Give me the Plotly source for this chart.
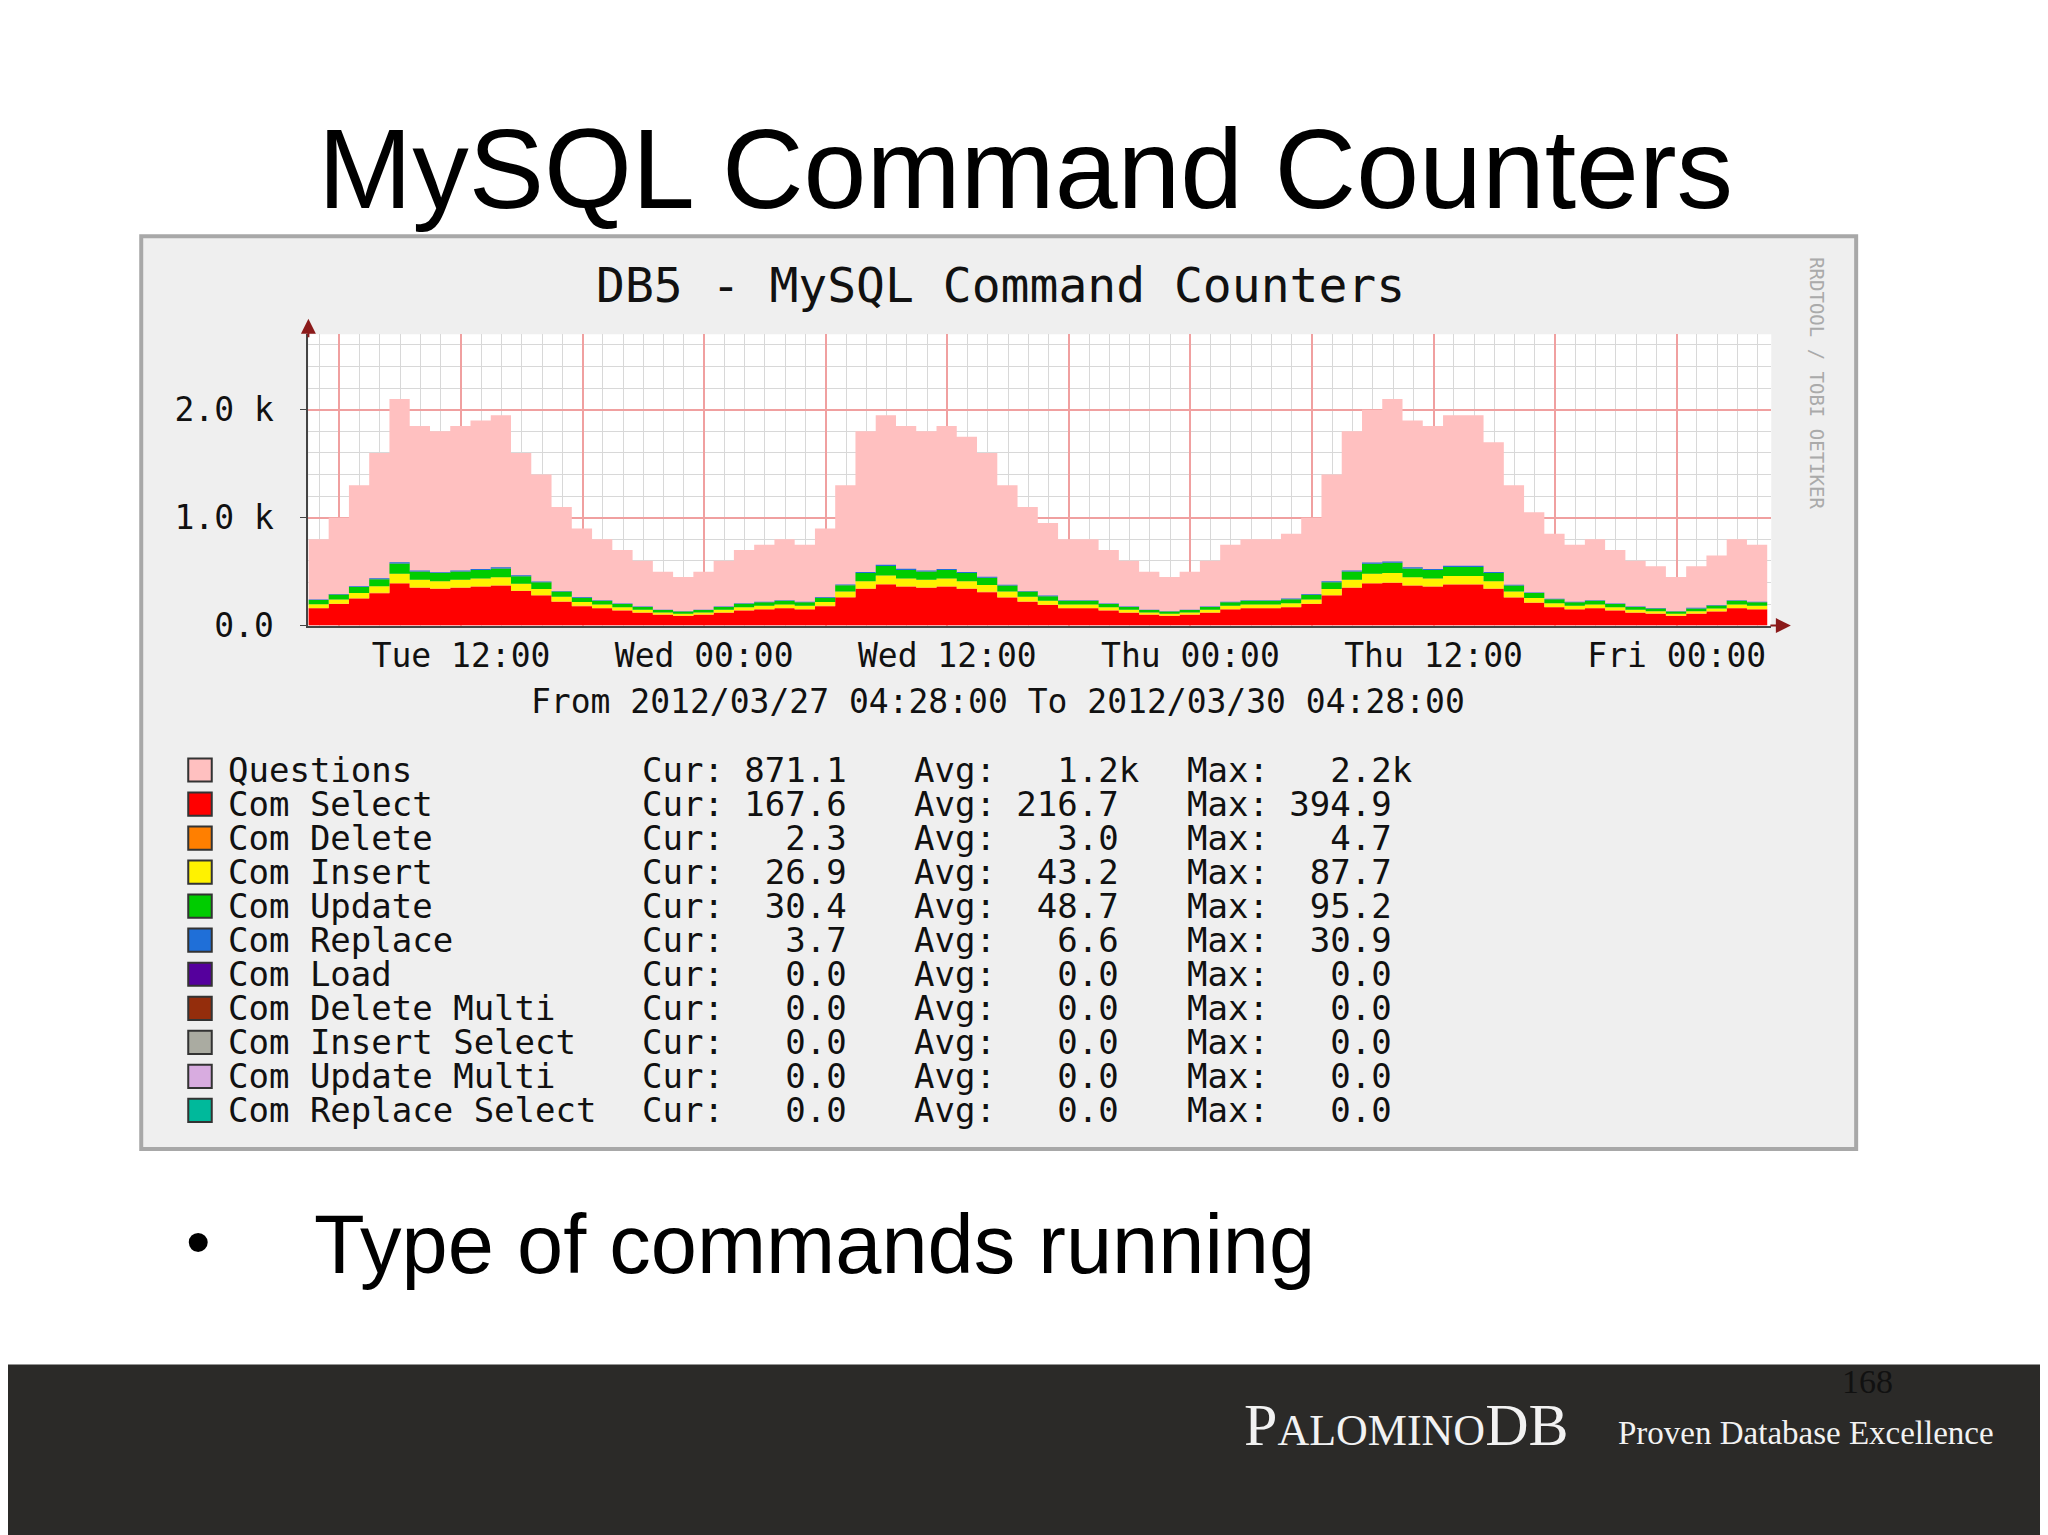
import plotly.graph_objects as go
import pandas as pd

W, H = 2048, 1535
def px(x): return (x - 5) / 1568
def py(y): return 1 - (y - 1) / 1175

times = pd.date_range("2012-03-27 04:28", periods=73, freq="h")
questions = [800,1000,1300,1600,2100,1850,1800,1850,1900,1950,1600,1400,1100,900,800,700,600,500,450,500,
             600,700,750,800,750,900,1300,1800,1950,1850,1800,1850,1750,1600,1300,1100,950,800,800,700,
             600,500,450,500,600,750,800,800,850,1000,1400,1800,2000,2100,1900,1850,1950,1950,1700,1300,
             1050,850,750,800,700,600,550,450,550,650,800,750,850]
com_select = [160,200,250,300,390,350,340,350,360,370,320,280,220,180,160,140,120,100,90,100,
              120,140,150,160,150,180,260,340,380,360,350,360,340,310,260,220,190,160,160,140,
              120,100,90,100,120,150,160,160,170,200,280,350,390,395,370,360,380,380,340,260,
              210,170,150,160,140,120,110,90,110,130,160,150,168]
com_delete = [3,3,3,4,5,4,4,4,4,4,4,3,3,3,3,2,2,2,2,2,
              2,3,3,3,3,3,4,4,5,4,4,4,4,4,3,3,3,3,3,2,
              2,2,2,2,2,3,3,3,3,3,4,4,5,5,4,4,4,4,4,3,
              3,3,3,3,2,2,2,2,2,2,3,3,2]
com_insert = [35,40,50,60,85,70,68,70,72,74,64,56,44,36,32,28,24,20,18,20,
              24,28,30,32,30,36,52,68,80,72,70,72,68,62,52,44,38,32,32,28,
              24,20,18,20,24,30,32,32,34,40,56,70,85,88,74,72,76,76,68,52,
              42,34,30,32,28,24,22,18,22,26,32,30,27]
com_update = [40,45,55,66,95,78,75,78,80,82,70,62,48,40,35,31,26,22,20,22,
              26,31,33,35,33,40,57,75,88,80,77,80,75,68,57,48,42,35,35,31,
              26,22,20,22,26,33,35,35,37,44,62,78,93,95,82,80,84,84,75,57,
              46,37,33,35,31,26,24,20,24,29,35,33,30]
com_replace = [5,6,7,8,12,9,8,9,9,10,8,7,6,5,5,4,4,4,3,4,
               4,5,5,5,5,6,8,9,12,10,9,9,9,8,7,6,5,5,5,4,
               4,4,3,4,4,5,5,5,6,6,8,9,11,12,10,9,10,10,9,7,
               6,5,5,5,4,4,4,3,8,4,5,5,4]

legend_names = ["Questions","Com Select","Com Delete","Com Insert","Com Update","Com Replace",
                "Com Load","Com Delete Multi","Com Insert Select","Com Update Multi","Com Replace Select"]
legend_colors = ["#FFC0C0","#FF0000","#FF7F00","#FFF200","#00CC00","#1F6FD8",
                 "#55009D","#942D0C","#AAABA1","#D8ACE0","#00B99B"]
cur_vals = ["871.1","167.6","2.3","26.9","30.4","3.7","0.0","0.0","0.0","0.0","0.0"]
avg_vals = ["1.2k","216.7","3.0","43.2","48.7","6.6","0.0","0.0","0.0","0.0","0.0"]
max_vals = ["2.2k","394.9","4.7","87.7","95.2","30.9","0.0","0.0","0.0","0.0","0.0"]

NB = "\u00a0"
def field(label, v):
    s = v if v.endswith("k") else v + " "
    return (label + ":" + s.rjust(7)).replace(" ", NB)

fig = go.Figure()
fig.add_trace(go.Scatter(x=times, y=questions, fill="tozeroy", mode="lines",
                         line=dict(width=0, shape="hv", color="#FFC0C0"), fillcolor="#FFC0C0"))
for vals, col in [(com_select,"#FF0000"),(com_delete,"#FF7F00"),(com_insert,"#FFF200"),
                  (com_update,"#00CC00"),(com_replace,"#1F6FD8")]:
    fig.add_trace(go.Scatter(x=times, y=vals, stackgroup="c", mode="lines",
                             line=dict(width=0, shape="hv", color=col), fillcolor=col))

mono = "DejaVu Sans Mono"
shapes = []
ann = []
shapes.append(dict(type="rect", xref="paper", yref="paper", x0=-0.01, x1=1.01, y0=-0.01, y1=py(1053),
                   fillcolor="#2b2a28", line=dict(width=0), layer="below"))
shapes.append(dict(type="rect", xref="paper", yref="paper", x0=px(107), x1=px(1420), y0=py(886), y1=py(178),
                   fillcolor="#efefef", line=dict(color="#a8a8a8", width=4), layer="below"))
shapes.append(dict(type="rect", xref="paper", yref="paper", x0=px(235), x1=px(1355), y0=py(480), y1=py(254),
                   fillcolor="#ffffff", line=dict(width=0), layer="below"))
for i, col in enumerate(legend_colors):
    y = 592 + i * 26.4
    shapes.append(dict(type="rect", xref="paper", yref="paper", x0=px(143), x1=px(161),
                       y0=py(y + 9), y1=py(y - 9), fillcolor=col, line=dict(color="#333333", width=2)))
    ann.append(dict(x=px(173), y=py(y), text=legend_names[i].replace(" ", NB)))
    ann.append(dict(x=px(490), y=py(y), text=field("Cur", cur_vals[i])))
    ann.append(dict(x=px(698), y=py(y), text=field("Avg", avg_vals[i])))
    ann.append(dict(x=px(907), y=py(y), text=field("Max", max_vals[i])))
for a in ann:
    a.update(xref="paper", yref="paper", showarrow=False, yanchor="middle", xanchor="left", borderpad=0,
             font=dict(family=mono, size=34, color="#111111"))

ann += [
    dict(x=px(784), y=py(126), text="MySQL Command Counters", xref="paper", yref="paper", showarrow=False,
         font=dict(family="Liberation Sans", size=113, color="#000"), yanchor="middle"),
    dict(x=px(765), y=py(216), text="DB5 - MySQL Command Counters", xref="paper", yref="paper", showarrow=False,
         font=dict(family=mono, size=48, color="#111"), yanchor="middle"),
    dict(x=px(763), y=py(539), text="From 2012/03/27 04:28:00 To 2012/03/30 04:28:00", xref="paper", yref="paper",
         showarrow=False, font=dict(family=mono, size=33, color="#111"), yanchor="middle"),
    dict(x=px(1400), y=py(292), text="RRDTOOL / TOBI OETIKER", xref="paper", yref="paper", showarrow=False,
         textangle=90, font=dict(family=mono, size=19, color="#aaaaaa"), yanchor="middle"),
    dict(x=px(140), y=py(958), text="•", xref="paper", yref="paper", showarrow=False,
         font=dict(family="Liberation Sans", size=70, color="#000"), xanchor="left", yanchor="middle"),
    dict(x=px(238), y=py(960), text="Type of commands running", xref="paper", yref="paper", showarrow=False,
         font=dict(family="Liberation Sans", size=83, color="#000"), xanchor="left", yanchor="middle"),
    dict(x=px(1450), y=py(1066), text="168", xref="paper", yref="paper", showarrow=False,
         font=dict(family="Liberation Serif", size=34, color="#111"), yanchor="middle"),
    dict(x=px(950), y=py(1100), text="P<span style='font-size:44px'>ALOMINO</span>DB", xref="paper", yref="paper",
         showarrow=False, xanchor="left", font=dict(family="Liberation Serif", size=60, color="#f2f2f2"), yanchor="middle"),
    dict(x=px(1236), y=py(1106), text="Proven Database Excellence", xref="paper", yref="paper", showarrow=False,
         xanchor="left", font=dict(family="Liberation Serif", size=33, color="#f2f2f2"), yanchor="middle"),
]

ann.append(dict(x=px(1370), y=py(480), ax=-22, ay=0, xref="paper", yref="paper",
                showarrow=True, arrowhead=2, arrowsize=1.5, arrowwidth=2, arrowcolor="#8b1a1a", text=""))
ann.append(dict(x=px(235), y=py(242), ax=0, ay=20, xref="paper", yref="paper",
                showarrow=True, arrowhead=2, arrowsize=1.5, arrowwidth=2, arrowcolor="#8b1a1a", text=""))

tickvals = pd.date_range("2012-03-27 06:00", "2012-03-30 00:00", freq="6h")
ticktext = [t.strftime("%a %H:%M") if t.hour in (0, 12) else "" for t in tickvals]

fig.update_layout(
    width=W, height=H, margin=dict(l=0, r=0, t=0, b=0), showlegend=False,
    paper_bgcolor="#ffffff", plot_bgcolor="#ffffff",
    shapes=shapes, annotations=ann,
    xaxis=dict(domain=[px(235), px(1355)], type="date",
               range=[pd.Timestamp("2012-03-27 04:28"), pd.Timestamp("2012-03-30 04:40")],
               tickvals=list(tickvals), ticktext=ticktext, showgrid=True, gridcolor="#f0a0a0", gridwidth=1.5,
               minor=dict(dtick=3600000, tick0="2012-03-27 00:00", showgrid=True, gridcolor="#d8d8d8", gridwidth=1),
               tickfont=dict(family=mono, size=33, color="#111"), ticks="", showline=True,
               linecolor="#444", linewidth=2, zeroline=False),
    yaxis=dict(domain=[py(480), py(254)], range=[0, 2700], tickvals=[0, 1000, 2000],
               ticktext=["0.0", "1.0 k", "2.0 k"], showgrid=True, gridcolor="#f0a0a0", gridwidth=1.5,
               minor=dict(dtick=200, showgrid=True, gridcolor="#d8d8d8", gridwidth=1),
               tickfont=dict(family=mono, size=33, color="#111"), ticks="outside", ticklen=6,
               tickcolor="#444", showline=True, linecolor="#444", linewidth=2, zeroline=False,
               ticklabelstandoff=20),
)
fig.write_html("out.html")
